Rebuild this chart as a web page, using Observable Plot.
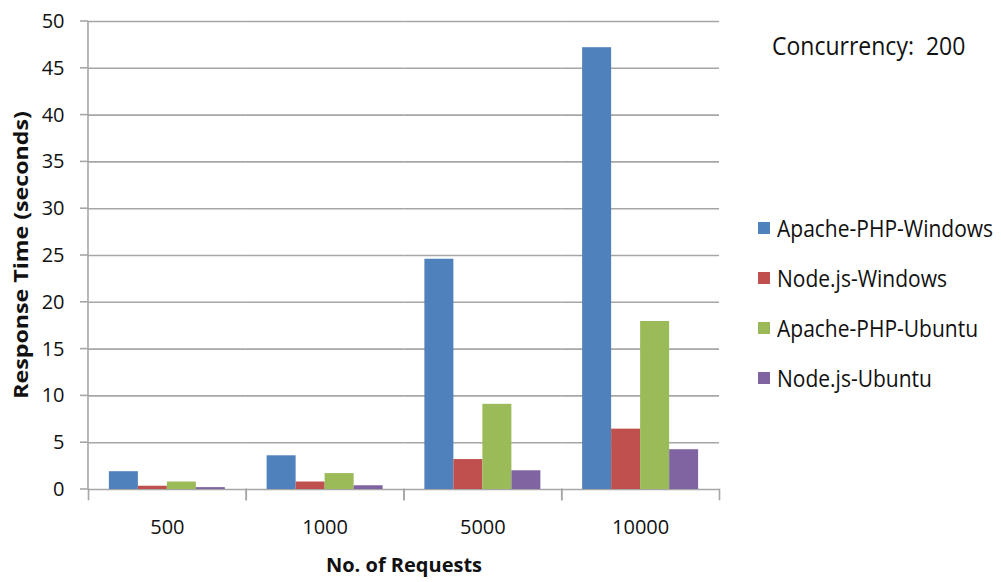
<!DOCTYPE html>
<html>
<head>
<meta charset="utf-8">
<script src="https://cdn.jsdelivr.net/npm/d3@7"></script>
<script src="https://cdn.jsdelivr.net/npm/@observablehq/plot@0.6"></script>
<style>
  html, body { margin: 0; padding: 0; background: #fff; }
  #wrap { position: relative; width: 1001px; height: 582px; font-family: "Open Sans", sans-serif; color: #111; }
  #wrap svg { position: absolute; left: 0; top: 0; }
  .ov { position: absolute; white-space: nowrap; }
  .legend-row { position: absolute; left: 758px; height: 26px; display: flex; align-items: center; font-size: 21px; }
  .legend-row span.sw { width: 12px; height: 12px; display: inline-block; margin-right: 7px; }
  .legend-row span.tx { display: inline-block; transform: scaleY(1.12); }
</style>
</head>
<body>
<div id="wrap"></div>
<script>
const categories = ["500", "1000", "5000", "10000"];
const series = ["Apache-PHP-Windows", "Node.js-Windows", "Apache-PHP-Ubuntu", "Node.js-Ubuntu"];
const colors = ["#4f81bd", "#c0504d", "#9bbb59", "#8064a2"];
const apachePhpWindows = [1.9, 3.6, 24.6, 47.2];
const nodeWindows = [0.35, 0.8, 3.2, 6.45];
const apachePhpUbuntu = [0.8, 1.7, 9.1, 17.95];
const nodeUbuntu = [0.2, 0.4, 2.0, 4.25];
const yTicks = [0, 5, 10, 15, 20, 25, 30, 35, 40, 45, 50];

const valuesBySeries = [apachePhpWindows, nodeWindows, apachePhpUbuntu, nodeUbuntu];
const data = [];
categories.forEach((c, i) => series.forEach((s, j) => data.push({category: c, series: s, value: valuesBySeries[j][i]})));

const plot = Plot.plot({
  width: 1001,
  height: 582,
  marginLeft: 88,
  marginRight: 282,
  marginTop: 21,
  marginBottom: 93,
  style: {fontFamily: "Open Sans, sans-serif", fontSize: "20px", color: "#111", background: "transparent"},
  fx: {domain: categories, padding: 0, round: false, label: null, tickSize: 0, tickPadding: 30},
  x: {domain: series, paddingInner: 0, paddingOuter: 0.72, round: false, axis: null},
  y: {domain: [0, 50], ticks: yTicks, tickSize: 0, tickPadding: 24, label: null},
  color: {domain: series, range: colors},
  marks: [
    Plot.ruleY(yTicks, {stroke: "#a6a6a6", strokeWidth: 1.6}),
    Plot.barY(data, {fx: "category", x: "series", y: "value", fill: "series"}),
    Plot.frame({anchor: "left", stroke: "#a6a6a6", strokeWidth: 1.6, strokeOpacity: 1, insetTop: 468, insetBottom: -10}),
    Plot.frame({anchor: "right", stroke: "#a6a6a6", strokeWidth: 1.6, strokeOpacity: 1, insetTop: 468, insetBottom: -10})
  ]
});
document.getElementById("wrap").appendChild(plot);

// y axis line and the short outer tick marks, positioned through Plot's y scale
const svg = d3.select(plot);
const yScale = plot.scale("y");
const overlay = svg.append("g").attr("stroke", "#a6a6a6").attr("stroke-width", 1.6);
overlay.append("line").attr("x1", 88).attr("x2", 88).attr("y1", yScale.apply(50)).attr("y2", yScale.apply(0));
yTicks.forEach(t => overlay.append("line").attr("x1", 80).attr("x2", 88).attr("y1", yScale.apply(t)).attr("y2", yScale.apply(t)));

const wrap = document.getElementById("wrap");
function addText(html, css) {
  const d = document.createElement("div");
  d.className = "ov";
  d.innerHTML = html;
  Object.assign(d.style, css);
  wrap.appendChild(d);
  return d;
}
addText("Concurrency:&nbsp; 200", {left: "772px", top: "29px", fontSize: "23px", transform: "scaleY(1.08)"});
addText("No. of Requests", {left: "404px", top: "551px", fontSize: "20px", fontWeight: "bold", transform: "translateX(-50%)", lineHeight: "28px"});
addText("Response Time (seconds)", {left: "21px", top: "255px", fontSize: "19px", fontWeight: "bold", transform: "translate(-50%,-50%) rotate(-90deg) scaleX(1.22)"});

series.forEach((s, j) => {
  const row = document.createElement("div");
  row.className = "legend-row";
  row.style.top = (215 + j * 50) + "px";
  row.innerHTML = `<span class="sw" style="background:${colors[j]}"></span><span class="tx">${s}</span>`;
  wrap.appendChild(row);
});
</script>
</body>
</html>
